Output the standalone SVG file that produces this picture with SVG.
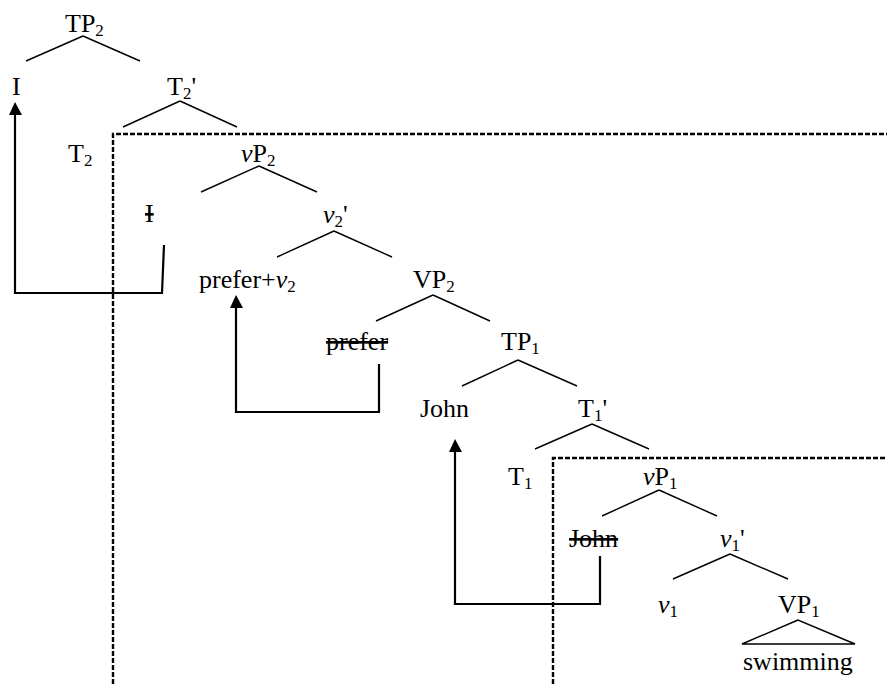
<svg xmlns="http://www.w3.org/2000/svg" width="887" height="684" viewBox="0 0 887 684">
  <style>
    .sub { font-size: 17px; }
    .it { font-style: italic; }
    .del { text-decoration: line-through; }
    .branch { stroke: #000; stroke-width: 1.4; fill: none; }
    .move { stroke: #000; stroke-width: 2.2; fill: none; }
    .head { fill: #000; }
    .phase { stroke: #000; stroke-width: 2.4; stroke-dasharray: 5 2; fill: none; }
  </style>

  <!-- phase boundaries -->
  <g id="phases">
    <path class="phase" d="M113,684 V134 H887"/>
    <path class="phase" d="M553,684 V458 H887"/>
  </g>

  <!-- tree branches and movement arrows -->
  <g id="connectors">
    <path class="branch" d="M83,36 L26,61 M83,36 L140,61"/>
    <path class="branch" d="M180,101 L123,127 M180,101 L237,127"/>
    <path class="branch" d="M259,166 L201,192 M259,166 L317,192"/>
    <path class="branch" d="M334,231 L277,257 M334,231 L392,257"/>
    <path class="branch" d="M433,295 L376,321 M433,295 L490,321"/>
    <path class="branch" d="M518,360 L462,386 M518,360 L577,386"/>
    <path class="branch" d="M592,424 L535,449 M592,424 L649,449"/>
    <path class="branch" d="M659,490 L602,516 M659,490 L717,516"/>
    <path class="branch" d="M730,554 L673,579 M730,554 L788,579"/>
    <path class="branch" d="M798,620 L742,644 L855,644 Z"/>

    <polyline class="move" points="164,245 162,293 15,293 15,113"/>
    <polygon class="head" points="15,102 9,115 22,115"/>
    <polyline class="move" points="379,364 379,412 236,412 236,306"/>
    <polygon class="head" points="236,295 230,308 243,308"/>
    <polyline class="move" points="600,556 600,604 455,604 455,450"/>
    <polygon class="head" points="455,439 449,452 462,452"/>
  </g>

  <g id="labels" font-family="Liberation Serif, Times New Roman, serif" font-size="26" fill="#000">
    <g id="TP2"><text x="65" y="32">TP<tspan class="sub" dy="4">2</tspan></text></g>
    <g id="I"><text x="12" y="95">I</text></g>
    <g id="T2bar"><text x="167" y="95">T<tspan class="sub" dy="4">2</tspan><tspan dy="-4">'</tspan></text></g>
    <g id="T2"><text x="68" y="162">T<tspan class="sub" dy="4">2</tspan></text></g>
    <g id="vP2"><text x="241" y="162"><tspan class="it">v</tspan>P<tspan class="sub" dy="4">2</tspan></text></g>
    <g id="I-copy"><text x="145" y="222" class="del">I</text></g>
    <g id="v2bar"><text x="323" y="223"><tspan class="it">v</tspan><tspan class="sub" dy="4">2</tspan><tspan dy="-4">'</tspan></text></g>
    <g id="prefer-v2"><text x="199" y="288">prefer+<tspan class="it">v</tspan><tspan class="sub" dy="4">2</tspan></text></g>
    <g id="VP2"><text x="413" y="288">VP<tspan class="sub" dy="4">2</tspan></text></g>
    <g id="prefer-copy"><text x="326" y="350" class="del">prefer</text></g>
    <g id="TP1"><text x="501" y="350">TP<tspan class="sub" dy="4">1</tspan></text></g>
    <g id="John"><text x="420" y="417">John</text></g>
    <g id="T1bar"><text x="578" y="417">T<tspan class="sub" dy="4">1</tspan><tspan dy="-4">'</tspan></text></g>
    <g id="T1"><text x="508" y="485">T<tspan class="sub" dy="4">1</tspan></text></g>
    <g id="vP1"><text x="643" y="485"><tspan class="it">v</tspan>P<tspan class="sub" dy="4">1</tspan></text></g>
    <g id="John-copy"><text x="569" y="547" class="del">John</text></g>
    <g id="v1bar"><text x="720" y="547"><tspan class="it">v</tspan><tspan class="sub" dy="4">1</tspan><tspan dy="-4">'</tspan></text></g>
    <g id="v1"><text x="658" y="613"><tspan class="it">v</tspan><tspan class="sub" dy="4">1</tspan></text></g>
    <g id="VP1"><text x="778" y="613">VP<tspan class="sub" dy="4">1</tspan></text></g>
    <g id="swimming"><text x="743" y="670">swimming</text></g>
  </g>
</svg>
